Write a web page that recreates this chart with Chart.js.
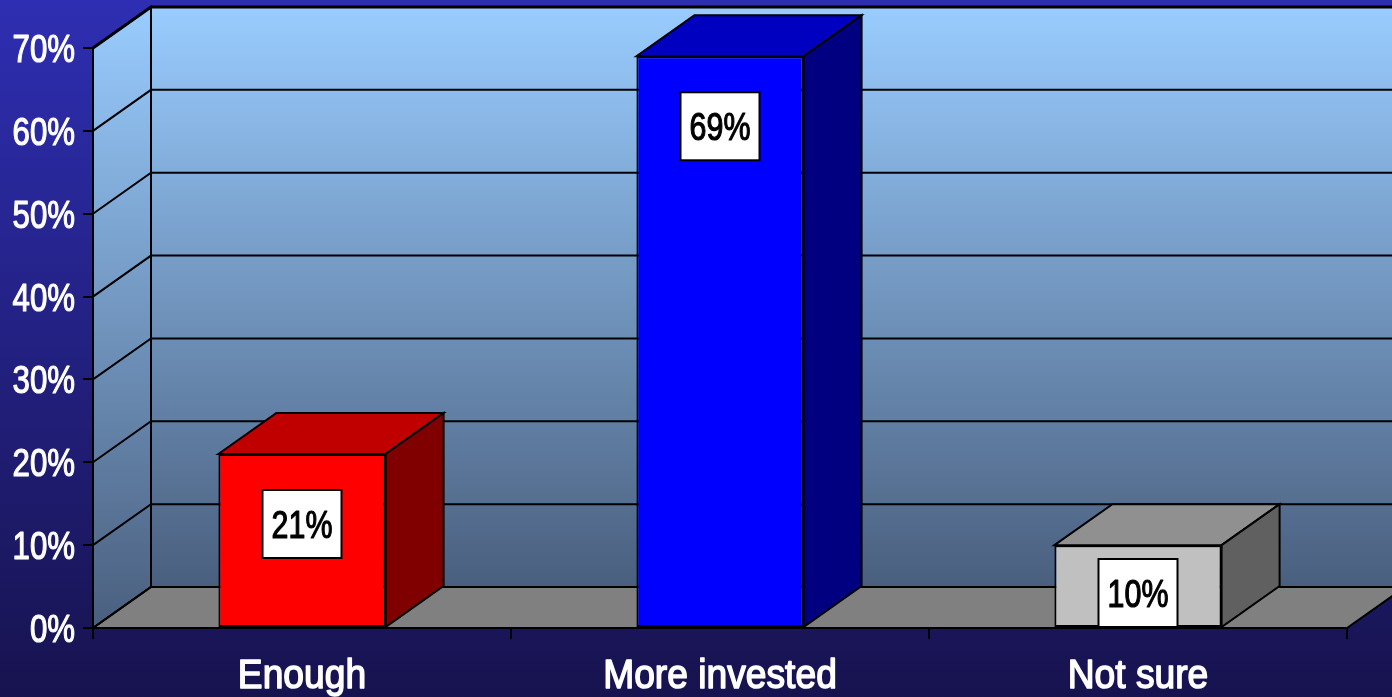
<!DOCTYPE html>
<html>
<head>
<meta charset="utf-8">
<script src="https://cdn.jsdelivr.net/npm/chart.js@4/dist/chart.umd.min.js"></script>
<style>
  html, body { margin: 0; padding: 0; background: #1a1660; }
  canvas { display: block; }
</style>
</head>
<body>
<canvas id="barChart" width="1392" height="697"></canvas>
<script>
// data
var categories = ['Enough', 'More invested', 'Not sure'];
var values = [21, 69, 10];
var valueLabels = ['21%', '69%', '10%'];
var yTickLabels = ['0%', '10%', '20%', '30%', '40%', '50%', '60%', '70%'];

// styles
var FONT = "'Liberation Sans', Arial, sans-serif";
var frontColors = ['#ff0000', '#0000ff', '#c0c0c0'];
var topColors = ['#c00000', '#0000c0', '#909090'];
var sideColors = ['#800000', '#000080', '#606060'];
var DX = 58, DY = -41; // depth of the 3d box

function poly(ctx, pts, fill) {
    ctx.beginPath();
    ctx.moveTo(pts[0][0], pts[0][1]);
    for (var i = 1; i < pts.length; i++) ctx.lineTo(pts[i][0], pts[i][1]);
    ctx.closePath();
    if (fill) { ctx.fillStyle = fill; ctx.fill(); }
    ctx.stroke();
}

// narrow text: regular font squeezed sideways (no Arial Narrow here),
// with a thin outline to get a medium weight
function narrowText(ctx, text, x, y, size, sx, align, color, thick) {
    ctx.save();
    ctx.translate(x, y);
    ctx.scale(sx, 1);
    ctx.font = size + 'px ' + FONT;
    ctx.textAlign = align;
    ctx.textBaseline = 'alphabetic';
    ctx.fillStyle = color;
    ctx.strokeStyle = color;
    ctx.lineWidth = thick;
    ctx.lineJoin = 'round';
    ctx.fillText(text, 0, 0);
    ctx.strokeText(text, 0, 0);
    ctx.restore();
}

var background = {
    id: 'background',
    beforeDraw: function(chart) {
        var ctx = chart.ctx;
        var g = ctx.createLinearGradient(0, 0, 0, chart.height);
        g.addColorStop(0, '#2e2eb2');
        g.addColorStop(1, '#17134f');
        ctx.save();
        ctx.fillStyle = g;
        ctx.fillRect(0, 0, chart.width, chart.height);
        ctx.restore();
    }
};

// walls, floor and gridlines of the 3d box
var walls = {
    id: 'walls',
    beforeDatasetsDraw: function(chart) {
        var ctx = chart.ctx, ca = chart.chartArea, ys = chart.scales.y;
        var y0 = ys.getPixelForValue(0), yTop = ys.getPixelForValue(70);
        var wallGrad = ctx.createLinearGradient(0, yTop + DY, 0, y0 + DY);
        wallGrad.addColorStop(0, '#99ccff');
        wallGrad.addColorStop(1, '#4a5f7e');
        ctx.save();
        ctx.strokeStyle = '#000';
        ctx.lineWidth = 2;
        ctx.lineJoin = 'miter';
        // back wall
        ctx.fillStyle = wallGrad;
        ctx.fillRect(ca.left + DX, yTop + DY, chart.width, y0 - yTop);
        // left wall
        var sideGrad = ctx.createLinearGradient(0, yTop + DY, 0, y0);
        sideGrad.addColorStop(0, '#99ccff');
        sideGrad.addColorStop(1, '#4a5f7e');
        poly(ctx, [[ca.left, y0], [ca.left + DX, y0 + DY], [ca.left + DX, yTop + DY], [ca.left, yTop]], sideGrad);
        // floor
        poly(ctx, [[ca.left, y0], [ca.left + DX, y0 + DY], [ca.right + DX, y0 + DY], [ca.right, y0]], '#808080');
        // gridlines
        ys.ticks.forEach(function(t) {
            var y = ys.getPixelForValue(t.value);
            ctx.lineWidth = t.value === 70 ? 3 : 2;
            ctx.beginPath();
            ctx.moveTo(ca.left, y);
            ctx.lineTo(ca.left + DX, y + DY);
            ctx.lineTo(chart.width, y + DY);
            ctx.stroke();
        });
        ctx.lineWidth = 2;
        ctx.beginPath();
        ctx.moveTo(ca.left + DX, yTop + DY);
        ctx.lineTo(ca.left + DX, y0 + DY);
        ctx.stroke();
        ctx.restore();
    }
};

// top and side faces of the bars plus the value boxes
var boxes = {
    id: 'boxes',
    afterDatasetsDraw: function(chart) {
        var ctx = chart.ctx;
        var meta = chart.getDatasetMeta(0);
        ctx.save();
        ctx.strokeStyle = '#000';
        ctx.lineWidth = 2;
        ctx.lineJoin = 'miter';
        meta.data.forEach(function(bar, i) {
            var l = bar.x - bar.width / 2, r = bar.x + bar.width / 2;
            var top = bar.y, base = bar.base;
            poly(ctx, [[l, top], [l + DX, top + DY], [r + DX, top + DY], [r, top]], topColors[i]);
            poly(ctx, [[r, top], [r + DX, top + DY], [r + DX, base + DY], [r, base]], sideColors[i]);
        });
        meta.data.forEach(function(bar, i) {
            var w = 79, h = 68;
            var cy = Math.min(bar.y + 70, bar.base - h / 2);
            ctx.fillStyle = '#fff';
            ctx.strokeStyle = '#000';
            ctx.lineWidth = 2;
            ctx.fillRect(bar.x - w / 2, cy - h / 2, w, h);
            ctx.strokeRect(bar.x - w / 2, cy - h / 2, w, h);
            narrowText(ctx, valueLabels[i], bar.x, cy + 14, 38, 0.8, 'center', '#000', 1.2);
        });
        ctx.restore();
    }
};

// axis labels, drawn at the scales' own tick positions
var axisText = {
    id: 'axisText',
    afterDraw: function(chart) {
        var ctx = chart.ctx, xs = chart.scales.x, ys = chart.scales.y;
        ys.ticks.forEach(function(t, i) {
            narrowText(ctx, t.label, 75, ys.getPixelForTick(i) + 14, 39, 0.8, 'right', '#fff', 1.2);
        });
        xs.ticks.forEach(function(t, i) {
            narrowText(ctx, xs.getLabelForValue(t.value), xs.getPixelForTick(i), 688, 40, 0.93, 'center', '#fff', 1.5);
        });
    }
};

var ctx = document.getElementById('barChart').getContext('2d');
var myChart = new Chart(ctx, {
    type: 'bar',
    data: {
        labels: categories,
        datasets: [{
            data: values,
            backgroundColor: frontColors,
            borderColor: '#000',
            borderWidth: 2,
            borderSkipped: false,
            categoryPercentage: 1,
            barPercentage: 0.4
        }]
    },
    options: {
        responsive: false,
        animation: false,
        devicePixelRatio: 1,
        layout: { padding: { top: 48, right: 45, left: 0, bottom: 0 } },
        plugins: {
            legend: { display: false },
            tooltip: { enabled: false }
        },
        scales: {
            x: {
                afterFit: function(s) { s.height = 69; },
                grid: { offset: true, drawOnChartArea: false, color: '#000', lineWidth: 2, tickLength: 11 },
                border: { color: '#000', width: 2 },
                ticks: { color: 'rgba(0,0,0,0)', padding: 8, font: { family: FONT, size: 39 } }
            },
            y: {
                min: 0,
                max: 70,
                afterFit: function(s) { s.width = 93; },
                grid: { drawOnChartArea: false, color: '#000', lineWidth: 2, tickLength: 10 },
                border: { color: '#000', width: 2 },
                ticks: {
                    stepSize: 10,
                    color: 'rgba(0,0,0,0)',
                    padding: 8,
                    font: { family: FONT, size: 39 },
                    callback: function(v, i) { return yTickLabels[i]; }
                }
            }
        }
    },
    plugins: [background, walls, boxes, axisText]
});
</script>
</body>
</html>
